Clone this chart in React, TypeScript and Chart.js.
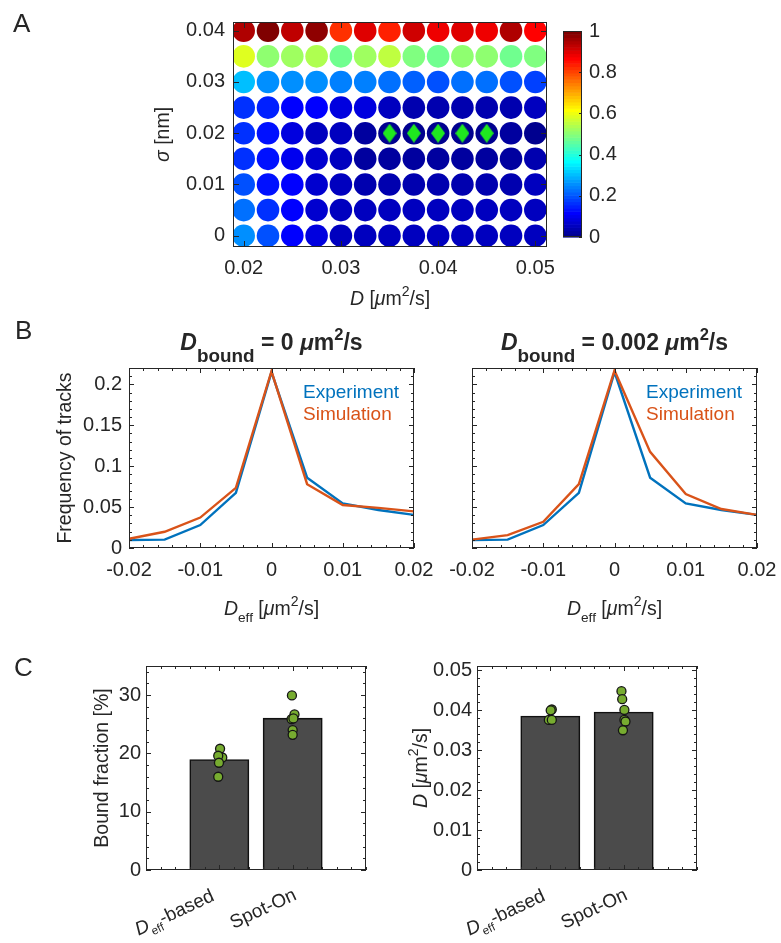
import React, { useEffect, useRef } from 'react';
import { Chart, registerables } from 'chart.js';

Chart.register(...registerables);

const W = 781;
const H = 943;
const FONT = '"Liberation Sans", Arial, Helvetica, sans-serif';
const INK = '#262626';
const BLUE = '#0072BD';
const ORANGE = '#D95319';
const DOT = '#77AC30';
const BAR = '#4b4b4b';

// ---------------- Panel A: fit score map ----------------
const diffusionD = [0.02, 0.0225, 0.025, 0.0275, 0.03, 0.0325, 0.035, 0.0375, 0.04, 0.0425, 0.045, 0.0475, 0.05];
const sigmaValues = [0, 0.005, 0.01, 0.015, 0.02, 0.025, 0.03, 0.035, 0.04];
const scoreSigma000 = [0.25, 0.19, 0.12, 0.08, 0.06, 0.05, 0.05, 0.05, 0.05, 0.05, 0.05, 0.05, 0.06];
const scoreSigma005 = [0.22, 0.16, 0.11, 0.07, 0.06, 0.05, 0.05, 0.05, 0.05, 0.05, 0.05, 0.05, 0.06];
const scoreSigma010 = [0.19, 0.14, 0.11, 0.07, 0.05, 0.04, 0.04, 0.04, 0.04, 0.04, 0.04, 0.04, 0.05];
const scoreSigma015 = [0.17, 0.14, 0.10, 0.07, 0.05, 0.03, 0.03, 0.03, 0.03, 0.03, 0.03, 0.03, 0.04];
const scoreSigma020 = [0.16, 0.13, 0.09, 0.06, 0.05, 0.02, 0.0, 0.0, 0.0, 0.0, 0.0, 0.03, 0.01];
const scoreSigma025 = [0.17, 0.15, 0.12, 0.11, 0.09, 0.08, 0.05, 0.04, 0.04, 0.04, 0.04, 0.04, 0.05];
const scoreSigma030 = [0.31, 0.26, 0.25, 0.25, 0.24, 0.24, 0.23, 0.21, 0.19, 0.22, 0.23, 0.2, 0.18];
const scoreSigma035 = [0.58, 0.51, 0.52, 0.54, 0.48, 0.52, 0.55, 0.49, 0.48, 0.5, 0.51, 0.48, 0.49];
const scoreSigma040 = [0.94, 0.99, 0.93, 0.97, 0.82, 0.9, 0.83, 0.92, 0.88, 0.9, 0.88, 0.95, 0.87];
const scoreRows = [scoreSigma000, scoreSigma005, scoreSigma010, scoreSigma015, scoreSigma020, scoreSigma025, scoreSigma030, scoreSigma035, scoreSigma040];
const bestFitD = [0.035, 0.0375, 0.04, 0.0425, 0.045];
const bestFitSigma = [0.02, 0.02, 0.02, 0.02, 0.02];
const mapXTicks = [0.02, 0.03, 0.04, 0.05];
const mapYTicks = [0, 0.01, 0.02, 0.03, 0.04];
const colorbarTicks = [0, 0.2, 0.4, 0.6, 0.8, 1];
const colorLevels = 64;

// ---------------- Panel B: Deff histograms ----------------
const deffBins = [-0.02, -0.015, -0.01, -0.005, 0, 0.005, 0.01, 0.015, 0.02];
const experimentFreq = [0.0098, 0.0102, 0.028, 0.0675, 0.215, 0.086, 0.0545, 0.0465, 0.0405];
const simulationBound0 = [0.0112, 0.0198, 0.0372, 0.0735, 0.216, 0.078, 0.0525, 0.049, 0.0448];
const simulationBound002 = [0.0102, 0.0158, 0.032, 0.078, 0.217, 0.1175, 0.0659, 0.0476, 0.0405];
const histXTicks = [-0.02, -0.01, 0, 0.01, 0.02];
const histYTicks = [0, 0.05, 0.1, 0.15, 0.2];

// ---------------- Panel C: method comparison ----------------
const methodPositions = [1, 2];
const boundFractionMean = [18.9, 26.0];
const boundDeffValues = [20.8, 19.3, 19.6, 18.4, 16.0];
const boundDeffJitter = [0.01, 0.04, -0.015, -0.005, -0.015];
const boundSpotOnValues = [29.95, 26.7, 25.9, 26.0, 24.0, 23.2];
const boundSpotOnJitter = [-0.01, 0.025, -0.015, 0.01, 0.0, 0.0];
const boundYTicks = [0, 10, 20, 30];
const diffMean = [0.0385, 0.0395];
const diffDeffValues = [0.0402, 0.04, 0.0376, 0.0376];
const diffDeffJitter = [0.02, 0.005, -0.02, 0.02];
const diffSpotOnValues = [0.0448, 0.0428, 0.0401, 0.0376, 0.0372, 0.035];
const diffSpotOnJitter = [-0.03, -0.02, 0.01, 0.01, 0.025, -0.01];
const diffYTicks = [0, 0.01, 0.02, 0.03, 0.04, 0.05];

// ---------------- helpers ----------------
function jet(v: number): string {
  const i = Math.min(colorLevels, Math.max(1, Math.floor(v * colorLevels) + 1));
  const u = (k: number) => (k < 1 || k > 47 ? 0 : k <= 16 ? k / 16 : k <= 31 ? 1 : (48 - k) / 16);
  const c = (x: number) => Math.round(x * 255);
  return `rgb(${c(u(i - 24))},${c(u(i - 8))},${c(u(i + 8))})`;
}

const fmt = (v: any) => String(Number(v));

type Seg = { t: string; i?: boolean; b?: boolean; sub?: boolean; sup?: boolean; sc?: number; dy?: number };

function segSize(s: Seg, size: number) {
  return s.sub || s.sup ? size * (s.sc || 0.72) : size;
}
function segFont(s: Seg, size: number) {
  return `${s.i ? 'italic ' : ''}${s.b ? 'bold ' : ''}${segSize(s, size)}px ${FONT}`;
}

function drawRich(ctx: CanvasRenderingContext2D, segs: Seg[], x: number, y: number, size: number, align: string, rot: number, color: string) {
  ctx.save();
  ctx.translate(x, y);
  ctx.rotate(rot);
  ctx.fillStyle = color;
  ctx.textBaseline = 'alphabetic';
  ctx.textAlign = 'left';
  let total = 0;
  const widths = segs.map((s) => {
    ctx.font = segFont(s, size);
    const w = ctx.measureText(s.t).width;
    total += w;
    return w;
  });
  let cx = align === 'center' ? -total / 2 : align === 'right' ? -total : 0;
  segs.forEach((s, k) => {
    ctx.font = segFont(s, size);
    const dy = s.dy !== undefined ? s.dy * size : s.sub ? size * 0.4 : s.sup ? -size * 0.45 : 0;
    ctx.fillText(s.t, cx, dy);
    cx += widths[k];
  });
  ctx.restore();
}

const axesBox = {
  id: 'axesBox',
  afterDatasetsDraw(chart: any, _a: any, o: any) {
    const { ctx, chartArea: a, scales } = chart;
    const xs = scales.x;
    const ys = scales.y;
    const major = o.major ?? 5;
    const minor = o.minor ?? 3;
    ctx.save();
    ctx.strokeStyle = INK;
    ctx.lineWidth = 1;
    ctx.beginPath();
    const seg = (x1: number, y1: number, x2: number, y2: number) => {
      ctx.moveTo(x1, y1);
      ctx.lineTo(x2, y2);
    };
    const xTick = (v: number, len: number) => {
      const p = Math.round(xs.getPixelForValue(v)) + 0.5;
      seg(p, a.bottom, p, a.bottom - len);
      seg(p, a.top, p, a.top + len);
    };
    const yTick = (v: number, len: number) => {
      const p = Math.round(ys.getPixelForValue(v)) + 0.5;
      if (o.yLeft !== false) seg(a.left, p, a.left + len, p);
      seg(a.right, p, a.right - len, p);
    };
    const minors = (s: any, step: number, fn: any) => {
      if (!step) return;
      const n0 = Math.ceil(s.min / step - 1e-6);
      const n1 = Math.floor(s.max / step + 1e-6);
      for (let n = n0; n <= n1; n++) fn(n * step, minor);
    };
    if (o.xTicks !== false) {
      xs.ticks.forEach((t: any) => xTick(t.value, major));
      minors(xs, o.xMinor, xTick);
    }
    if (o.yTicks !== false) {
      ys.ticks.forEach((t: any) => yTick(t.value, major));
      minors(ys, o.yMinor, yTick);
    }
    ctx.stroke();
    ctx.strokeRect(Math.round(a.left) + 0.5, Math.round(a.top) + 0.5, Math.round(a.width) - 1, Math.round(a.height) - 1);
    ctx.restore();
  },
};

const richText = {
  id: 'richText',
  afterDraw(chart: any, _a: any, o: any) {
    (o.items || []).forEach((it: any) => {
      const x = it.xv !== undefined ? chart.scales.x.getPixelForValue(it.xv) + (it.dx || 0) : it.x;
      drawRich(chart.ctx, it.segs, x, it.y, it.size, it.align || 'center', it.rot || 0, it.color || INK);
    });
  },
};

const jetBar = {
  id: 'jetBar',
  beforeDatasetsDraw(chart: any) {
    const { ctx, chartArea: a, scales } = chart;
    const y = scales.y;
    for (let i = 0; i < colorLevels; i++) {
      const y0 = y.getPixelForValue(i / colorLevels);
      const y1 = y.getPixelForValue((i + 1) / colorLevels);
      ctx.fillStyle = jet((i + 0.5) / colorLevels);
      ctx.fillRect(a.left, y1, a.width, y0 - y1 + 0.6);
    }
  },
};

const tickFont = { family: FONT, size: 20 };

function xAxis(min: number, max: number, ticks: number[], bottom: number, show: boolean, pad = 10) {
  return {
    type: 'linear',
    position: 'bottom',
    min,
    max,
    offset: false,
    grid: { display: false, drawTicks: false, tickLength: 0 },
    border: { display: false },
    ticks: { display: show, font: tickFont, color: INK, padding: pad, maxRotation: 0, minRotation: 0, autoSkip: false, callback: fmt },
    afterBuildTicks: (s: any) => {
      s.ticks = ticks.map((v) => ({ value: v }));
    },
    afterFit: (s: any) => {
      s.height = H - bottom;
      s.paddingLeft = 0;
      s.paddingRight = 0;
    },
  };
}

function yAxis(min: number, max: number, ticks: number[], width: number, show: boolean, pad = 7, position = 'left') {
  return {
    type: 'linear',
    position,
    min,
    max,
    grid: { display: false, drawTicks: false, tickLength: 0 },
    border: { display: false },
    ticks: { display: show, font: tickFont, color: INK, padding: pad, autoSkip: false, callback: fmt },
    afterBuildTicks: (s: any) => {
      s.ticks = ticks.map((v) => ({ value: v }));
    },
    afterFit: (s: any) => {
      s.width = width;
      s.paddingTop = 0;
      s.paddingBottom = 0;
    },
  };
}

const baseOpts = (padding: any) => ({
  responsive: false,
  animation: false,
  events: [],
  layout: { padding },
});

const unitSegs = (): Seg[] => [
  { t: ' [' },
  { t: 'μ', i: true },
  { t: 'm' },
  { t: '2', sup: true, sc: 0.72 },
  { t: '/s]' },
];

function titleSegs(value: string): Seg[] {
  return [
    { t: 'D', i: true, b: true },
    { t: 'bound', b: true, sub: true, sc: 0.82, dy: 0.5 },
    { t: ` = ${value} `, b: true },
    { t: 'μ', i: true, b: true },
    { t: 'm', b: true },
    { t: '2', b: true, sup: true, sc: 0.72 },
    { t: '/s', b: true },
  ];
}

const deffSegs: Seg[] = [{ t: 'D', i: true }, { t: 'eff', sub: true, sc: 0.7, dy: 0.38 }, ...unitSegs()];

function makeDiamond() {
  const c = document.createElement('canvas');
  c.width = 14;
  c.height = 19;
  const g = c.getContext('2d') as CanvasRenderingContext2D;
  g.fillStyle = '#1fe81f';
  g.beginPath();
  g.moveTo(7, 0);
  g.lineTo(14, 9.5);
  g.lineTo(7, 19);
  g.lineTo(0, 9.5);
  g.closePath();
  g.fill();
  return c;
}

function heatConfig(): any {
  const pts: any[] = [];
  const cols: string[] = [];
  sigmaValues.forEach((s, r) => {
    scoreRows[r].forEach((v, c) => {
      pts.push({ x: diffusionD[c], y: s });
      cols.push(jet(v));
    });
  });
  const L = 233, T = 22, R = 547, B = 247;
  return {
    type: 'scatter',
    data: {
      datasets: [
        { data: pts, pointBackgroundColor: cols, pointBorderWidth: 0, pointRadius: 11.3, order: 1 },
        { data: bestFitD.map((d, k) => ({ x: d, y: bestFitSigma[k] })), pointStyle: makeDiamond(), pointRadius: 9, order: 0 },
      ],
    },
    options: {
      ...baseOpts({ left: 0, top: T, right: W - R, bottom: 0 }),
      scales: {
        x: xAxis(0.0189, 0.0512, mapXTicks, B, true, 9),
        y: yAxis(-0.0022, 0.0417, mapYTicks, L, true, 8),
      },
      plugins: {
        legend: { display: false },
        tooltip: { enabled: false },
        axesBox: { major: 6 },
        richText: {
          items: [
            { segs: [{ t: 'A' }], x: 13, y: 32, size: 26, align: 'left' },
            { segs: [{ t: 'σ', i: true }, { t: ' [nm]' }], x: 169, y: 134.5, size: 19.5, rot: -Math.PI / 2 },
            { segs: [{ t: 'D', i: true }, ...unitSegs()], x: 390, y: 305, size: 19.5 },
          ],
        },
      },
    },
    plugins: [axesBox, richText],
  };
}

function colorbarConfig(): any {
  const L = 563, T = 31, R = 582, B = 237;
  return {
    type: 'scatter',
    data: { datasets: [] },
    options: {
      ...baseOpts({ left: L, top: T, right: 0, bottom: 0 }),
      scales: {
        x: xAxis(0, 1, [], B, false),
        y: yAxis(0, 1, colorbarTicks, W - R, true, 7, 'right'),
      },
      plugins: {
        legend: { display: false },
        tooltip: { enabled: false },
        axesBox: { xTicks: false, yLeft: false, major: 3 },
      },
    },
    plugins: [jetBar, axesBox],
  };
}

function histConfig(sim: number[], left: boolean): any {
  const L = left ? 129 : 472;
  const R = left ? 414 : 757;
  const T = 368, B = 548;
  const cx = (L + R) / 2;
  const items: any[] = [
    { segs: titleSegs(left ? '0' : '0.002'), x: cx, y: 350, size: 23 },
    { segs: deffSegs, x: cx, y: 615, size: 19.5 },
    { segs: [{ t: 'Experiment' }], x: R - 111, y: 398, size: 19, align: 'left', color: BLUE },
    { segs: [{ t: 'Simulation' }], x: R - 111, y: 420, size: 19, align: 'left', color: ORANGE },
  ];
  if (left) {
    items.push({ segs: [{ t: 'B' }], x: 15, y: 339, size: 26, align: 'left' });
    items.push({ segs: [{ t: 'Frequency of tracks' }], x: 71, y: (T + B) / 2, size: 19.5, rot: -Math.PI / 2 });
  }
  return {
    type: 'line',
    data: {
      datasets: [
        { label: 'Experiment', data: deffBins.map((x, k) => ({ x, y: experimentFreq[k] })), borderColor: BLUE, borderWidth: 2.4, pointRadius: 0, tension: 0, order: 1 },
        { label: 'Simulation', data: deffBins.map((x, k) => ({ x, y: sim[k] })), borderColor: ORANGE, borderWidth: 2.4, pointRadius: 0, tension: 0, order: 0 },
      ],
    },
    options: {
      ...baseOpts({ left: 0, top: T, right: W - R, bottom: 0 }),
      scales: {
        x: xAxis(-0.02, 0.02, histXTicks, B, true, 10),
        y: yAxis(0, 0.22, histYTicks, L, left, 7),
      },
      plugins: {
        legend: { display: false },
        tooltip: { enabled: false },
        axesBox: { xMinor: 0.002, yMinor: 0.01, major: 5, minor: 3 },
        richText: { items },
      },
    },
    plugins: [axesBox, richText],
  };
}

function compareConfig(kind: 'bound' | 'diff'): any {
  const isBound = kind === 'bound';
  const L = isBound ? 146 : 477;
  const R = isBound ? 366 : 697;
  const T = 666, B = 870;
  const means = isBound ? boundFractionMean : diffMean;
  const deffVals = isBound ? boundDeffValues : diffDeffValues;
  const deffJit = isBound ? boundDeffJitter : diffDeffJitter;
  const spotVals = isBound ? boundSpotOnValues : diffSpotOnValues;
  const spotJit = isBound ? boundSpotOnJitter : diffSpotOnJitter;
  const dots = [
    ...deffVals.map((v, k) => ({ x: methodPositions[0] + deffJit[k], y: v })),
    ...spotVals.map((v, k) => ({ x: methodPositions[1] + spotJit[k], y: v })),
  ];
  const rot = (-25 * Math.PI) / 180;
  const items: any[] = [
    { segs: [{ t: 'D', i: true }, { t: 'eff', sub: true, sc: 0.62, dy: 0.3 }, { t: '-based' }], xv: methodPositions[0], dx: -4, y: 900, size: 19, align: 'right', rot },
    { segs: [{ t: 'Spot-On' }], xv: methodPositions[1], dx: 5, y: 899, size: 19, align: 'right', rot },
  ];
  if (isBound) {
    items.push({ segs: [{ t: 'C' }], x: 14, y: 676, size: 26, align: 'left' });
    items.push({ segs: [{ t: 'Bound fraction [%]' }], x: 108, y: (T + B) / 2, size: 19.5, rot: -Math.PI / 2 });
  } else {
    items.push({ segs: [{ t: 'D', i: true }, ...unitSegs()], x: 427, y: (T + B) / 2, size: 19.5, rot: -Math.PI / 2 });
  }
  return {
    type: 'bar',
    data: {
      datasets: [
        {
          type: 'bar',
          data: methodPositions.map((x, k) => ({ x, y: means[k] })),
          backgroundColor: BAR,
          borderColor: '#111111',
          borderWidth: 1.6,
          borderSkipped: false,
          inflateAmount: 0.6,
          barPercentage: 1,
          categoryPercentage: 0.8,
          order: 1,
        },
        {
          type: 'scatter',
          data: dots,
          backgroundColor: DOT,
          borderColor: '#151515',
          borderWidth: 1.3,
          pointRadius: 4.5,
          order: 0,
        },
      ],
    },
    options: {
      ...baseOpts({ left: 0, top: T, right: W - R, bottom: 0 }),
      scales: {
        x: xAxis(0, 3, methodPositions, B, false),
        y: isBound ? yAxis(0, 35, boundYTicks, L, true, 5) : yAxis(0, 0.0511, diffYTicks, L, true, 5),
      },
      plugins: {
        legend: { display: false },
        tooltip: { enabled: false },
        axesBox: { xMinor: 0.2, yMinor: isBound ? 2 : 0.002, major: 5, minor: 3 },
        richText: { items },
      },
    },
    plugins: [axesBox, richText],
  };
}

export default function App() {
  const r1 = useRef<HTMLCanvasElement>(null);
  const r2 = useRef<HTMLCanvasElement>(null);
  const r3 = useRef<HTMLCanvasElement>(null);
  const r4 = useRef<HTMLCanvasElement>(null);
  const r5 = useRef<HTMLCanvasElement>(null);
  const r6 = useRef<HTMLCanvasElement>(null);
  const refs = [r1, r2, r3, r4, r5, r6];

  useEffect(() => {
    const configs = [
      heatConfig(),
      colorbarConfig(),
      histConfig(simulationBound0, true),
      histConfig(simulationBound002, false),
      compareConfig('bound'),
      compareConfig('diff'),
    ];
    const charts = configs.map((cfg, k) => new Chart(refs[k].current as HTMLCanvasElement, cfg));
    return () => charts.forEach((c) => c.destroy());
  }, []);

  return (
    <div style={{ position: 'absolute', left: 0, top: 0, width: W, height: H, background: '#fff', overflow: 'hidden' }}>
      {refs.map((r, k) => (
        <canvas key={k} ref={r} width={W} height={H} style={{ position: 'absolute', left: 0, top: 0, width: W, height: H }} />
      ))}
    </div>
  );
}
